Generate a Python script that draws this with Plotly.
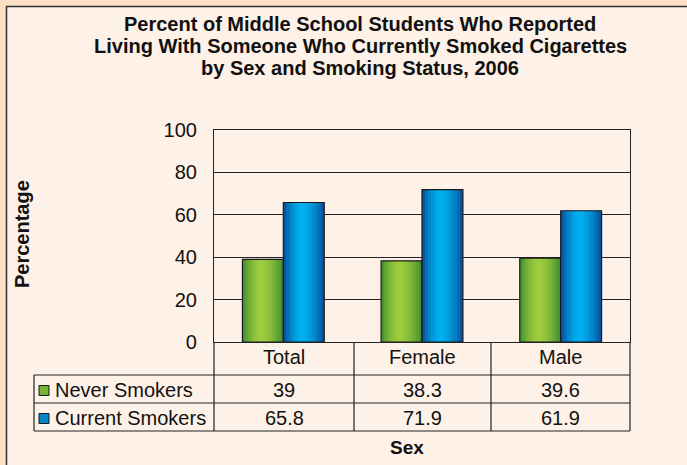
import plotly.graph_objects as go

# ---------------- data ----------------
categories = ["Total", "Female", "Male"]
series_names = ["Never Smokers", "Current Smokers"]
never_smokers = [39, 38.3, 39.6]
current_smokers = [65.8, 71.9, 61.9]
y_ticks = [0, 20, 40, 60, 80, 100]

title_lines = [
    "Percent of Middle School Students Who Reported",
    "Living With Someone Who Currently Smoked Cigarettes",
    "by Sex and Smoking Status, 2006",
]

# ---------------- style ----------------
W, H = 687, 465
PL, PR, PT, PB = 214, 630, 130, 342  # plot area in pixels
FONT = "Liberation Sans, Arial, sans-serif"
ORANGE = "#FDDFC3"
CREAM = "#FEF1E7"
DARK = "#222222"
TXT = "#111111"

green_dark, green_light = (62, 140, 46), (158, 205, 62)
blue_dark, blue_light = (8, 74, 150), (0, 176, 240)

def px(x):
    return (x - PL) / (PR - PL)

def py(y):
    return (PB - y) / (PB - PT)

def mix(c1, c2, f):
    return "rgb(%d,%d,%d)" % tuple(round(a + (b - a) * f) for a, b in zip(c1, c2))

fig = go.Figure()

bar_w = 0.295
n_strips = 14
x_idx = list(range(len(categories)))

for s, (vals, dark, light) in enumerate([
    (never_smokers, green_dark, green_light),
    (current_smokers, blue_dark, blue_light),
]):
    base_off = -bar_w if s == 0 else 0.0
    sw = bar_w / n_strips
    for k in range(n_strips):
        t = (k + 0.5) / n_strips
        peak = 0.45
        d = abs(t - peak) / (peak if t < peak else 1 - peak)
        f = max(0.0, 1 - d ** 1.6)
        fig.add_trace(go.Bar(
            x=x_idx, y=vals, width=min(sw * 1.8, bar_w - k * sw),
            offset=base_off + k * sw,
            marker=dict(color=mix(dark, light, f), line=dict(width=0)),
            showlegend=False, hoverinfo="skip",
        ))
    # outline
    fig.add_trace(go.Bar(
        x=x_idx, y=vals, width=bar_w, offset=base_off,
        marker=dict(color="rgba(0,0,0,0)", line=dict(color="#1a1a1a", width=1.2)),
        name=series_names[s], showlegend=False,
    ))

shapes = []
# outer panel
shapes.append(dict(type="rect", xref="paper", yref="paper", layer="below",
                   x0=px(6.5), x1=px(W + 10), y0=py(6.5), y1=py(H + 10),
                   fillcolor=CREAM, line=dict(color="#333333", width=1.5)))

def hline(x0, x1, y):
    shapes.append(dict(type="line", xref="paper", yref="paper",
                       x0=px(x0), x1=px(x1), y0=py(y), y1=py(y),
                       line=dict(color=DARK, width=1.2)))

def vline(x, y0, y1):
    shapes.append(dict(type="line", xref="paper", yref="paper",
                       x0=px(x), x1=px(x), y0=py(y0), y1=py(y1),
                       line=dict(color=DARK, width=1.2)))

col_edges = [PL, 354, 491, PR]
row_edges = [342, 375, 403, 431]
TL = 34
hline(TL, PR, 375)
hline(TL, PR, 403)
hline(TL, PR, 431)
for x in col_edges:
    vline(x, 342, 431)
vline(TL, 375, 431)

# legend squares
sq_colors = [mix(green_dark, green_light, 0.6), mix(blue_dark, blue_light, 0.6)]
for i, c in enumerate(sq_colors):
    yc = (row_edges[i + 1] + row_edges[i + 2]) / 2 + 1.5
    shapes.append(dict(type="rect", xref="paper", yref="paper",
                       x0=px(39), x1=px(49), y0=py(yc - 5), y1=py(yc + 5),
                       fillcolor=c, line=dict(color="#1a1a1a", width=1)))

annotations = []
for i, line in enumerate(title_lines):
    annotations.append(dict(text="<b>%s</b>" % line, xref="paper", yref="paper",
                            x=px(360), y=py(24 + i * 22), showarrow=False,
                            font=dict(size=20, family=FONT, color=TXT),
                            xanchor="center", yanchor="middle"))

centers = [(col_edges[j] + col_edges[j + 1]) / 2 for j in range(3)]
for j, c in enumerate(categories):
    annotations.append(dict(text=c, xref="paper", yref="paper", x=px(centers[j]),
                            y=py((row_edges[0] + row_edges[1]) / 2 - 2), showarrow=False,
                            font=dict(size=20, family=FONT, color=TXT),
                            xanchor="center", yanchor="middle"))
for r, vals in enumerate([never_smokers, current_smokers]):
    yc = (row_edges[r + 1] + row_edges[r + 2]) / 2 + 1
    annotations.append(dict(text=series_names[r], xref="paper", yref="paper",
                            x=px(53), y=py(yc), showarrow=False,
                            font=dict(size=20, family=FONT, color=TXT),
                            xanchor="left", yanchor="middle"))
    for j, v in enumerate(vals):
        annotations.append(dict(text=str(v), xref="paper", yref="paper",
                                x=px(centers[j]), y=py(yc), showarrow=False,
                                font=dict(size=20, family=FONT, color=TXT),
                                xanchor="center", yanchor="middle"))

annotations.append(dict(text="<b>Sex</b>", xref="paper", yref="paper",
                        x=px(407), y=py(447), showarrow=False,
                        font=dict(size=19, family=FONT, color=TXT),
                        xanchor="center", yanchor="middle"))
annotations.append(dict(text="<b>Percentage</b>", xref="paper", yref="paper",
                        x=px(22), y=py(234), showarrow=False, textangle=-90,
                        font=dict(size=20, family=FONT, color=TXT),
                        xanchor="center", yanchor="middle"))

fig.update_layout(
    width=W, height=H,
    margin=dict(l=PL, r=W - PR, t=PT, b=H - PB, pad=0),
    paper_bgcolor=ORANGE,
    plot_bgcolor="rgba(0,0,0,0)",
    barmode="overlay",
    showlegend=False,
    shapes=shapes,
    annotations=annotations,
    xaxis=dict(range=[-0.5, 2.5], showticklabels=False, showgrid=False,
               zeroline=False, showline=True, linecolor=DARK, linewidth=1.2,
               mirror=True, ticks=""),
    yaxis=dict(range=[0, 100], tickvals=y_ticks, showgrid=True, gridcolor=DARK,
               gridwidth=1.2, zeroline=False, showline=True, linecolor=DARK,
               linewidth=1.2, mirror=True, ticks="", ticklabelstandoff=12,
               tickfont=dict(size=20, family=FONT, color=TXT)),
)

fig.write_html("out.html", config={"displayModeBar": False},
               post_script="document.body.style.margin='0';")
